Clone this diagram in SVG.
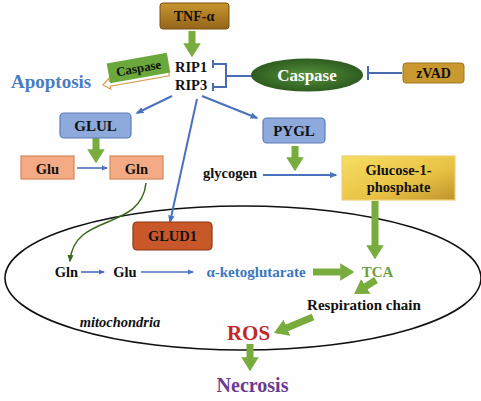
<svg xmlns="http://www.w3.org/2000/svg" width="481" height="401" viewBox="0 0 481 401">
<defs>
<linearGradient id="gTnf" x1="0" y1="0" x2="0" y2="1"><stop offset="0" stop-color="#c8952f"/><stop offset="1" stop-color="#94651a"/></linearGradient>
<linearGradient id="gGlc" x1="0" y1="0" x2="1" y2="1"><stop offset="0" stop-color="#f6de62"/><stop offset="0.6" stop-color="#e8c244"/><stop offset="1" stop-color="#c0922c"/></linearGradient>
<radialGradient id="gCas" cx="0.5" cy="0.5" r="0.5"><stop offset="0" stop-color="#56923c"/><stop offset="1" stop-color="#2e5c20"/></radialGradient>
<marker id="ga" viewBox="0 0 8 10" markerWidth="2" markerHeight="2.5" refX="1" refY="5" orient="auto" markerUnits="strokeWidth"><path d="M0,0 L8,5 L0,10 z" fill="#78ac3c"/></marker>
<marker id="ba" viewBox="0 0 10 10" markerWidth="4" markerHeight="4" refX="8" refY="5" orient="auto" markerUnits="strokeWidth"><path d="M0,1 L10,5 L0,9 z" fill="#4a72bc"/></marker>
<marker id="da" viewBox="0 0 10 10" markerWidth="5" markerHeight="5" refX="8" refY="5" orient="auto" markerUnits="strokeWidth"><path d="M0,1 L10,5 L0,9 z" fill="#3a6a1e"/></marker>
</defs>
<style>
text{font-family:"Liberation Serif","Times New Roman",serif;font-weight:bold;fill:#111}
.c{text-anchor:middle}
.g{stroke:#78ac3c;stroke-width:7;fill:none;marker-end:url(#ga)}
.b{stroke:#4a72bc;stroke-width:2;fill:none;marker-end:url(#ba)}
.bt{stroke:#4a72bc;stroke-width:1.6;fill:none;marker-end:url(#ba)}
.inh{stroke:#4a6ab0;stroke-width:2;fill:none}
.blue{fill:#8eaadc;stroke:#5a7ab8;stroke-width:1.2}
.sal{fill:#f4aa84;stroke:#d88858;stroke-width:1.2}
</style>
<rect width="481" height="401" fill="#fefefe"/>

<g id="mitochondria">
<ellipse cx="243" cy="278" rx="238" ry="72" fill="none" stroke="#111" stroke-width="1.6"/>
<text x="120" y="327" class="c" font-size="14.5" font-style="italic">mitochondria</text>
</g>

<g id="connectors">
<line class="g" x1="192" y1="31" x2="192" y2="45"/>
<line class="g" x1="96" y1="138" x2="96" y2="151"/>
<line class="g" x1="295" y1="146" x2="295" y2="159"/>
<line class="g" x1="375" y1="201" x2="375" y2="247"/>
<line class="g" x1="313" y1="272" x2="342" y2="272"/>
<line class="g" x1="376" y1="280" x2="364.4" y2="287.4"/>
<line class="g" x1="313" y1="317" x2="285.3" y2="328.4"/>
<line class="g" x1="250" y1="344" x2="250" y2="359"/>
<line class="b" x1="172" y1="96" x2="137" y2="113"/>
<line class="b" x1="197" y1="99" x2="170" y2="222"/>
<line class="b" x1="202" y1="96" x2="257" y2="118"/>
<line class="bt" x1="77" y1="168" x2="107" y2="168"/>
<line class="b" x1="263" y1="175" x2="336" y2="175"/>
<line class="bt" x1="81" y1="272" x2="104" y2="272"/>
<line class="bt" x1="141" y1="272" x2="193" y2="272"/>
<path d="M146,183 C141,232 74,212 70,261" stroke="#3a6a1e" stroke-width="1.5" fill="none" marker-end="url(#da)"/>
<path class="inh" d="M213,60 L213,68 M213,64 L226,64 L226,87 L213,87 M213,83 L213,91 M226,76 L252,76"/>
<path class="inh" d="M402,73 L368,73 M368,66 L368,80"/>
</g>

<g id="tnf">
<rect x="160" y="3" width="69" height="26" rx="3" fill="url(#gTnf)" stroke="#7a5010" stroke-width="1"/>
<text x="194" y="21" class="c" font-size="14">TNF-α</text>
</g>

<g id="rip">
<text x="175" y="72" font-size="14.5">RIP1</text>
<text x="175" y="90" font-size="14.5">RIP3</text>
</g>

<g id="caspase-small" transform="translate(138.5,68) rotate(-10)">
<polygon points="29,8 -31,8 -31,5 -38,10.5 -31,16 -31,13 29,13" fill="#fff" stroke="#d8a050" stroke-width="1.2"/>
<rect x="-30.5" y="-10" width="61" height="20" fill="#6aa83c"/>
<text x="0" y="4.5" class="c" font-size="13">Caspase</text>
</g>

<g id="apoptosis">
<text x="11" y="88" font-size="19" style="fill:#4a7cc4">Apoptosis</text>
</g>

<g id="caspase">
<ellipse cx="307" cy="75" rx="56" ry="16.5" fill="url(#gCas)"/>
<text x="307" y="81" class="c" font-size="17" style="fill:#fff">Caspase</text>
</g>

<g id="zvad">
<rect x="403" y="63" width="61" height="20" rx="3" fill="#c9982f" stroke="#a07820" stroke-width="1"/>
<text x="433.5" y="78" class="c" font-size="14">zVAD</text>
</g>

<g id="glul">
<rect x="60" y="113" width="71" height="25" rx="4" class="blue"/>
<text x="95.5" y="130.5" class="c" font-size="15">GLUL</text>
</g>

<g id="glu-box">
<rect x="21" y="156" width="53" height="23" class="sal"/>
<text x="47.5" y="173.5" class="c" font-size="14.5">Glu</text>
</g>

<g id="gln-box">
<rect x="110" y="156" width="53" height="23" class="sal"/>
<text x="136.5" y="173.5" class="c" font-size="14.5">Gln</text>
</g>

<g id="pygl">
<rect x="263" y="118" width="62" height="25" rx="4" class="blue"/>
<text x="294" y="136" class="c" font-size="15">PYGL</text>
</g>

<g id="glycogen">
<text x="230" y="178" class="c" font-size="14.5">glycogen</text>
</g>

<g id="glucose">
<rect x="342" y="156" width="113" height="44" fill="url(#gGlc)" stroke="#f0d070" stroke-width="1.2"/>
<text x="398.5" y="175" class="c" font-size="14.5">Glucose-1-</text>
<text x="398.5" y="192" class="c" font-size="14.5">phosphate</text>
</g>

<g id="glud1">
<rect x="133" y="222" width="79" height="28" rx="4" fill="#c8582a" stroke="#8a3812" stroke-width="1.2"/>
<text x="172.5" y="241" class="c" font-size="14.5">GLUD1</text>
</g>

<g id="gln-mito"><text x="66.5" y="277" class="c" font-size="14.5">Gln</text></g>
<g id="glu-mito"><text x="125" y="277" class="c" font-size="14.5">Glu</text></g>
<g id="akg"><text x="256" y="277" class="c" font-size="15" style="fill:#3a78c0">α-ketoglutarate</text></g>
<g id="tca"><text x="377.5" y="277" class="c" font-size="15" style="fill:#6aa040">TCA</text></g>
<g id="resp"><text x="364" y="310" class="c" font-size="15">Respiration chain</text></g>
<g id="ros"><text x="248.5" y="340" class="c" font-size="21" style="fill:#c0282a">ROS</text></g>
<g id="necrosis"><text x="252.5" y="392" class="c" font-size="20" style="fill:#6a3a90">Necrosis</text></g>
</svg>
